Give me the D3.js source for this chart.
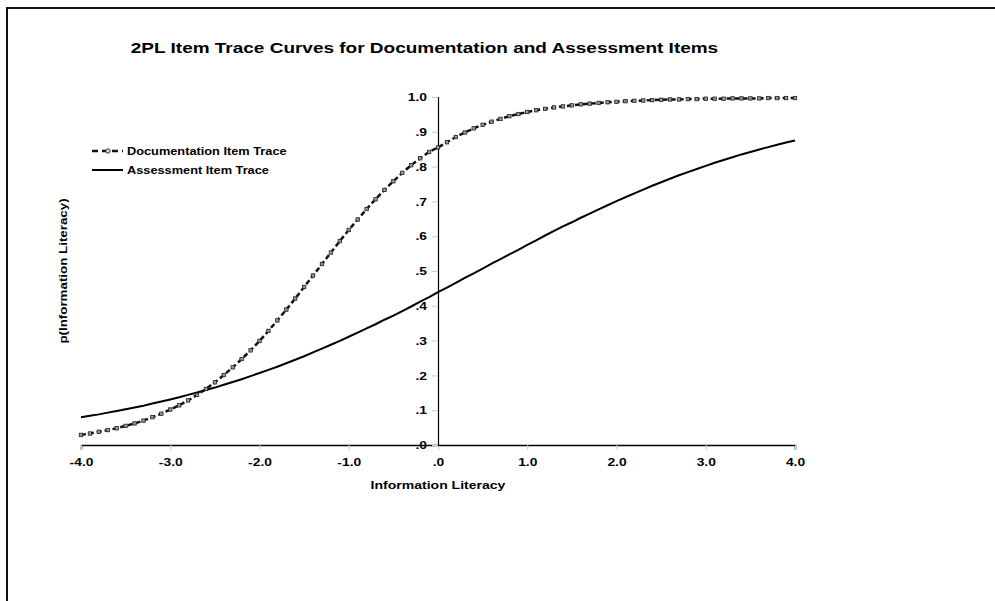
<!DOCTYPE html>
<html>
<head>
<meta charset="utf-8">
<script src="https://cdn.jsdelivr.net/npm/d3@7/dist/d3.min.js"></script>
<style>
  html, body { margin: 0; padding: 0; background: #fff; }
  svg { display: block; font-family: "Liberation Sans", Arial, sans-serif; }
</style>
</head>
<body>
<svg id="chart" width="995" height="601"></svg>
<script>
// Ability levels (theta) on the horizontal axis
const theta = [
  -4.0,-3.9,-3.8,-3.7,-3.6,-3.5,-3.4,-3.3,-3.2,-3.1,
  -3.0,-2.9,-2.8,-2.7,-2.6,-2.5,-2.4,-2.3,-2.2,-2.1,
  -2.0,-1.9,-1.8,-1.7,-1.6,-1.5,-1.4,-1.3,-1.2,-1.1,
  -1.0,-0.9,-0.8,-0.7,-0.6,-0.5,-0.4,-0.3,-0.2,-0.1,
   0.0, 0.1, 0.2, 0.3, 0.4, 0.5, 0.6, 0.7, 0.8, 0.9,
   1.0, 1.1, 1.2, 1.3, 1.4, 1.5, 1.6, 1.7, 1.8, 1.9,
   2.0, 2.1, 2.2, 2.3, 2.4, 2.5, 2.6, 2.7, 2.8, 2.9,
   3.0, 3.1, 3.2, 3.3, 3.4, 3.5, 3.6, 3.7, 3.8, 3.9,
   4.0
];

// Probability of endorsement, Documentation item
const documentation = [
  0.029,0.033,0.038,0.043,0.048,0.055,0.062,0.070,0.080,0.090,
  0.102,0.114,0.128,0.144,0.161,0.180,0.201,0.223,0.247,0.272,
  0.299,0.328,0.358,0.389,0.421,0.454,0.487,0.520,0.553,0.586,
  0.618,0.648,0.678,0.706,0.733,0.758,0.782,0.804,0.824,0.842,
  0.855,0.870,0.885,0.898,0.910,0.920,0.929,0.937,0.945,0.951,
  0.957,0.962,0.966,0.970,0.973,0.976,0.979,0.981,0.983,0.985,
  0.986,0.988,0.989,0.990,0.991,0.992,0.993,0.993,0.994,0.994,
  0.995,0.995,0.995,0.996,0.996,0.996,0.996,0.997,0.997,0.997,
  0.997
];

// Probability of endorsement, Assessment item
const assessment = [
  0.080,0.084,0.088,0.093,0.098,0.103,0.108,0.113,0.119,0.125,
  0.131,0.137,0.144,0.151,0.158,0.165,0.173,0.181,0.189,0.198,
  0.207,0.216,0.225,0.235,0.245,0.255,0.266,0.277,0.288,0.299,
  0.311,0.323,0.335,0.347,0.360,0.372,0.385,0.398,0.412,0.425,
  0.439,0.452,0.466,0.480,0.493,0.507,0.521,0.534,0.548,0.561,
  0.575,0.588,0.602,0.615,0.628,0.640,0.653,0.665,0.677,0.689,
  0.701,0.712,0.723,0.734,0.745,0.755,0.765,0.775,0.784,0.793,
  0.802,0.811,0.819,0.827,0.835,0.842,0.849,0.856,0.863,0.869,
  0.875
];

const xTicks = [-4, -3, -2, -1, 0, 1, 2, 3, 4];
const xTickLabels = ["-4.0", "-3.0", "-2.0", "-1.0", ".0", "1.0", "2.0", "3.0", "4.0"];
const yTicks = [0, 0.1, 0.2, 0.3, 0.4, 0.5, 0.6, 0.7, 0.8, 0.9, 1.0];
const yTickLabels = [".0", ".1", ".2", ".3", ".4", ".5", ".6", ".7", ".8", ".9", "1.0"];
const seriesNames = ["Documentation Item Trace", "Assessment Item Trace"];

const svg = d3.select("#chart");

// Widen text glyphs horizontally by a given factor
function widen(sel, factor) {
  sel.each(function () {
    const w = this.getComputedTextLength();
    d3.select(this)
      .attr("textLength", w * factor)
      .attr("lengthAdjust", "spacingAndGlyphs");
  });
}

// Outer chart frame (continues beyond the right and bottom edges)
svg.append("rect")
  .attr("x", 7).attr("y", 8)
  .attr("width", 1000).attr("height", 610)
  .attr("fill", "#fff")
  .attr("stroke", "#111")
  .attr("stroke-width", 2);

const x = d3.scaleLinear().domain([-4, 4]).range([81, 795]);
const y = d3.scaleLinear().domain([0, 1]).range([445, 97]);

// Title
svg.append("text")
  .attr("x", 424.5).attr("y", 53)
  .attr("text-anchor", "middle")
  .attr("font-size", 15).attr("font-weight", "bold")
  .text("2PL Item Trace Curves for Documentation and Assessment Items")
  .call(widen, 1.265);

// X axis along p = 0
const xAxis = svg.append("g")
  .attr("transform", `translate(0,${y(0)})`)
  .call(d3.axisBottom(x).tickValues(xTicks)
    .tickFormat((d, i) => xTickLabels[i]).tickSize(5).tickPadding(8));
xAxis.select(".domain").attr("stroke", "#000").attr("stroke-width", 1.5);
xAxis.selectAll(".tick line").attr("stroke", "#ccc");
xAxis.selectAll(".tick text")
  .attr("font-size", 11.5).attr("font-weight", "bold")
  .attr("font-family", "Liberation Sans, Arial, sans-serif").attr("fill", "#000")
  .call(widen, 1.2);

// Y axis through theta = 0
const yAxis = svg.append("g")
  .attr("transform", `translate(${x(0)},0)`)
  .call(d3.axisLeft(y).tickValues(yTicks)
    .tickFormat((d, i) => yTickLabels[i]).tickSize(6).tickPadding(5));
yAxis.select(".domain").attr("stroke", "#000").attr("stroke-width", 1.2);
yAxis.selectAll(".tick line").attr("stroke", "#ccc");
yAxis.selectAll(".tick text")
  .attr("font-size", 11.5).attr("font-weight", "bold")
  .attr("font-family", "Liberation Sans, Arial, sans-serif").attr("fill", "#000")
  .call(widen, 1.2);

// Axis titles
svg.append("text")
  .attr("x", x(0)).attr("y", 489)
  .attr("text-anchor", "middle")
  .attr("font-size", 11.5).attr("font-weight", "bold")
  .text("Information Literacy")
  .call(widen, 1.22);
svg.append("text")
  .attr("transform", `translate(67,${(y(0) + y(1)) / 2}) rotate(-90)`)
  .attr("text-anchor", "middle")
  .attr("font-size", 11.5).attr("font-weight", "bold")
  .text("p(Information Literacy)")
  .call(widen, 1.16);

const line = d3.line().x((d, i) => x(theta[i])).y(d => y(d));

// Assessment trace: solid
svg.append("path")
  .datum(assessment)
  .attr("d", line)
  .attr("fill", "none")
  .attr("stroke", "#000")
  .attr("stroke-width", 2);

// Documentation trace: dashed with small markers
svg.append("path")
  .datum(documentation)
  .attr("d", line)
  .attr("fill", "none")
  .attr("stroke", "#111")
  .attr("stroke-width", 2.5)
  .attr("stroke-dasharray", "5,3");
svg.append("g").selectAll("rect")
  .data(documentation)
  .join("rect")
  .attr("x", (d, i) => x(theta[i]) - 1.7)
  .attr("y", d => y(d) - 1.7)
  .attr("width", 3.4).attr("height", 3.4)
  .attr("fill", "#999")
  .attr("stroke", "#222")
  .attr("stroke-width", 0.8);

// Legend
const legend = svg.append("g");
const legendRows = [151, 170];
legend.append("line")
  .attr("x1", 92).attr("x2", 123)
  .attr("y1", legendRows[0]).attr("y2", legendRows[0])
  .attr("stroke", "#111").attr("stroke-width", 2.5)
  .attr("stroke-dasharray", "6,4");
legend.append("circle")
  .attr("cx", 108).attr("cy", legendRows[0]).attr("r", 2.2)
  .attr("fill", "#ddd").attr("stroke", "#333").attr("stroke-width", 1);
legend.append("line")
  .attr("x1", 92).attr("x2", 123)
  .attr("y1", legendRows[1]).attr("y2", legendRows[1])
  .attr("stroke", "#000").attr("stroke-width", 2);
legend.selectAll("text")
  .data(seriesNames)
  .join("text")
  .attr("x", 127)
  .attr("y", (d, i) => legendRows[i] + 4)
  .attr("font-size", 11.5).attr("font-weight", "bold")
  .text(d => d)
  .call(widen, 1.11);
</script>
</body>
</html>
